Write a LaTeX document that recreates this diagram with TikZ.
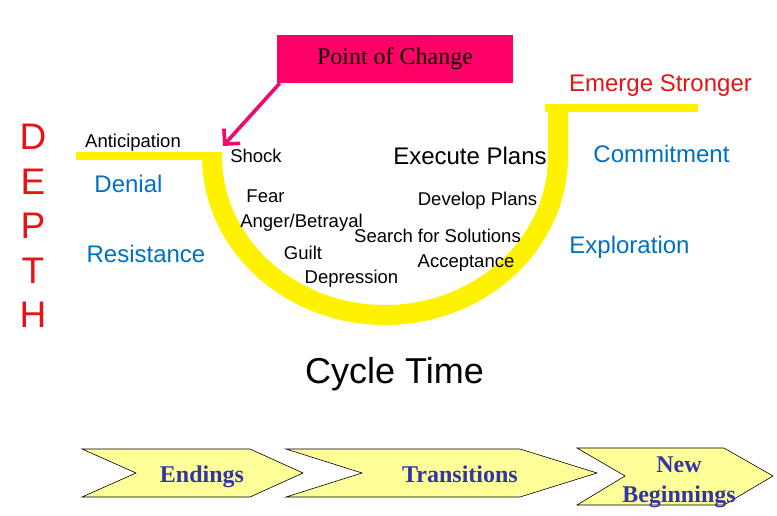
\documentclass[tikz,border=0pt]{standalone}
\usepackage{fontspec}
\setmainfont{Liberation Sans}
\newfontfamily\timesfont{Liberation Serif}
\usetikzlibrary{positioning, arrows.meta}
\definecolor{depthred}{RGB}{232,20,20}
\definecolor{stageblue}{RGB}{0,112,192}
\definecolor{changepink}{RGB}{255,0,102}
\definecolor{arrowpink}{RGB}{240,10,110}
\definecolor{chevronfill}{RGB}{255,255,153}
\definecolor{chevrontext}{RGB}{51,51,170}

\begin{document}
\begin{tikzpicture}[x=1pt, y=-1pt, node distance=18.5pt,
    letter/.style={text=depthred, inner sep=0pt, font=\fontsize{37}{40}\selectfont},
    stage/.style={text=stageblue, anchor=base, font=\fontsize{24}{28}\selectfont},
    feeling/.style={anchor=base, font=\fontsize{18.5}{22}\selectfont},
    road/.style={yellow, line width=8pt},
    ubend/.style={yellow, line width=20pt},
    chevron/.style={draw=black, fill=chevronfill, line width=0.6pt},
    chevlabel/.style={text=chevrontext, anchor=base, align=center, font=\timesfont\bfseries\fontsize{24}{30}\selectfont}]
    \path[use as bounding box, fill=white] (0,0) rectangle (777,516);

    % Yellow road with the dip of the change cycle
    \draw[road] (76,156) -- (222,156);
    \draw[road] (545,108) -- (698,108);
    \draw[ubend] (212,156) arc[start angle=180, end angle=360, x radius=173pt, y radius=159pt] -- (558,104);

    % Vertical axis letters
    \node (D) [letter, anchor=base] at (33,150) {D};
    \node (E) [letter, below=of D] {E};
    \node (P) [letter, below=of E] {P};
    \node (T) [letter, below=of P] {T};
    \node (H) [letter, below=of T] {H};

    % Point of change box and its pointer
    \node (change) [fill=changepink, minimum width=236pt, minimum height=48pt, font=\timesfont\fontsize{24}{28}\selectfont] at (395,59) {Point of Change};
    \coordinate (corner) at (223,146);
    \draw[-{Straight Barb[length=11pt, width=22pt]}, arrowpink, line width=3.6pt] ([xshift=3pt]change.south west) -- (corner);

    % Stages (blue) and outcome (red)
    \node (denial) [stage] at (128.5,193) {Denial};
    \node (resist) [stage] at (146,262) {Resistance};
    \node (commit) [stage] at (661.5,163) {Commitment};
    \node (explore) [stage] at (629.5,253) {Exploration};
    \node (emerge) [stage, text=depthred] at (660.5,92) {Emerge Stronger};

    % Feelings along the curve
    \node (antic) [feeling] at (133,148) {Anticipation};
    \node (shock) [feeling] at (256,163) {Shock};
    \node (fear) [feeling] at (265.5,203) {Fear};
    \node (anger) [feeling] at (301.5,227) {Anger/Betrayal};
    \node (guilt) [feeling] at (303,259) {Guilt};
    \node (depress) [feeling] at (351.5,283) {Depression};
    \node (search) [feeling] at (437.5,243) {Search for Solutions};
    \node (accept) [feeling] at (466,267) {Acceptance};
    \node (develop) [feeling] at (477.5,205) {Develop Plans};
    \node (execute) [feeling, font=\fontsize{24}{28}\selectfont] at (470,165) {Execute Plans};

    % Horizontal axis
    \node (cycle) [anchor=base, font=\fontsize{36}{40}\selectfont] at (394.5,383) {Cycle Time};

    % Chevrons for the three phases
    \draw[chevron] (82,449) -- (250,449) -- (303,473) -- (250,497) -- (82,497) -- (136,473) -- cycle;
    \draw[chevron] (286,449) -- (520,449) -- (597,473) -- (520,497) -- (286,497) -- (362,473) -- cycle;
    \draw[chevron] (577,448) -- (724,448) -- (773,476) -- (724,505) -- (577,505) -- (625,476) -- cycle;
    \node (endings) [chevlabel] at (202,482) {Endings};
    \node (trans) [chevlabel] at (460,482) {Transitions};
    \node (newbeg) [chevlabel] at (679,502) {New\\Beginnings};
\end{tikzpicture}
\end{document}
